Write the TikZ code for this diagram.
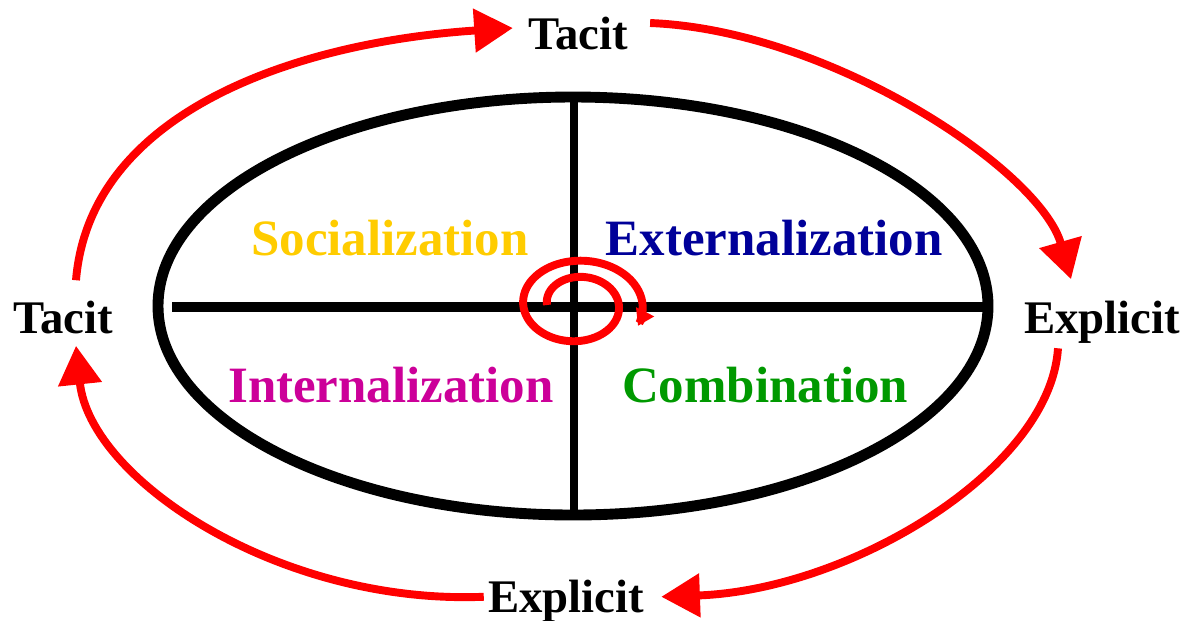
\documentclass[tikz,border=0pt]{standalone}
\usepackage{fontspec}
\setmainfont{Liberation Serif}
\usetikzlibrary{arrows.meta}
\usetikzlibrary{calc}

\definecolor{socialcol}{RGB}{255,204,0}
\definecolor{externcol}{RGB}{0,0,153}
\definecolor{interncol}{RGB}{204,0,153}
\definecolor{combicol}{RGB}{0,153,0}

\begin{document}
\begin{tikzpicture}[x=0.02cm, y=-0.02cm,
  quad/.style={font=\bfseries\fontsize{29}{30}\selectfont, anchor=base, inner sep=0pt},
  side/.style={font=\bfseries\fontsize{26.6}{28}\selectfont, anchor=base, inner sep=0pt},
  flow/.style={draw=red, line width=4.5pt, -{Triangle[length=22pt,width=24pt]}}]

\useasboundingbox (0,0) rectangle (1193,620);

% ellipse and cross
\draw[line width=6.2pt] (573,306) ellipse [x radius=415, y radius=209];
\draw[line width=5pt] (574,99) -- (574,513);
\draw[line width=6pt] (172,307) -- (985,307);

% quadrants
\node [quad, text=socialcol] (soc) at (390,255) {Socialization};
\node [quad, text=externcol] (ext) at (774,255) {Externalization};
\node [quad, text=interncol] (int) at (391,402) {Internalization};
\node [quad, text=combicol] (comb) at (765,402) {Combination};

% spiral
\draw[red, line width=4.5pt, -{Triangle[length=9pt,width=11pt]}]
  plot[domain=180:745, samples=120, smooth]
  ({577+(30+0.066*(\x-180))*cos(\x)}, {305+(24+0.045*(\x-180))*sin(\x)});

% outer labels
\node [side] (tt) at (578,49) {Tacit};
\node [side] (tl) at (63,333) {Tacit};
\node [side] (er) at (1102,333) {Explicit};
\node [side] (eb) at (566,612) {Explicit};

% 1
\draw[flow] ($(tl.north)+(13,-20)$) .. controls (90,110) and (300,42) .. ($(tt.west)+(-15,-5)$);
% 2
\draw[flow] ($(tt.east)+(22,-10)$) .. controls (830,30) and (1040,170) .. ($(er.north)+(-31,-21)$);
% 3
\draw[flow] ($(er.south)+(-44,5)$) .. controls (1050,470) and (850,590) .. ($(eb.east)+(17,-4)$);
% 4
\draw[flow] ($(eb.west)+(-4,-4)$) .. controls (280,605) and (90,480) .. ($(tl.south)+(13,12)$);

\end{tikzpicture}
\end{document}
